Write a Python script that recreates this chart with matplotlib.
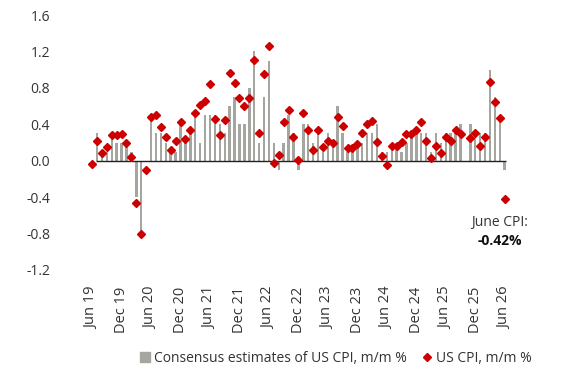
import matplotlib
matplotlib.use('Agg')
import matplotlib.pyplot as plt
import numpy as np

plt.rcParams['font.family'] = ['Open Sans', 'DejaVu Sans']

# monthly, Jun 2019 .. Jun 2026 (Oct 2025 has no release)
tick_labels = ['Jun 19', 'Dec 19', 'Jun 20', 'Dec 20', 'Jun 21', 'Dec 21', 'Jun 22', 'Dec 22',
               'Jun 23', 'Dec 23', 'Jun 24', 'Dec 24', 'Jun 25', 'Dec 25', 'Jun 26']

consensus = [0.0, 0.3, 0.1, 0.1, 0.3, 0.2, 0.2, 0.2, 0.1, -0.4, -0.8, 0.0,
             0.5, 0.3, 0.3, 0.2, 0.1, 0.1, 0.4, 0.2, 0.3, 0.5, 0.2, 0.5,
             0.5, 0.5, 0.4, 0.3, 0.6, 0.7, 0.4, 0.4, 0.8, 1.2, 0.2, 0.7,
             1.1, 0.2, -0.1, 0.2, 0.5, 0.3, -0.1, 0.4, 0.4, 0.2, 0.3, 0.1,
             0.3, 0.2, 0.6, 0.3, 0.1, 0.1, 0.2, 0.2, 0.3, 0.3, 0.4, 0.1,
             0.1, 0.2, 0.2, 0.1, 0.2, 0.3, 0.3, 0.3, 0.3, 0.1, 0.3, 0.2,
             0.3, 0.3, 0.3, 0.4, None, 0.4, 0.3, 0.3, 0.3, 1.0, 0.7, 0.5,
             -0.1]

cpi = [-0.04, 0.22, 0.08, 0.15, 0.28, 0.28, 0.29, 0.19, 0.04, -0.46, -0.80, -0.10,
       0.48, 0.50, 0.37, 0.26, 0.12, 0.22, 0.43, 0.24, 0.34, 0.52, 0.61, 0.66,
       0.84, 0.46, 0.28, 0.45, 0.96, 0.85, 0.69, 0.60, 0.69, 1.11, 0.30, 0.95,
       1.26, -0.03, 0.06, 0.42, 0.56, 0.26, 0.01, 0.52, 0.34, 0.12, 0.34, 0.15,
       0.22, 0.19, 0.48, 0.38, 0.14, 0.14, 0.18, 0.30, 0.40, 0.44, 0.21, 0.05,
       -0.05, 0.16, 0.16, 0.21, 0.29, 0.29, 0.34, 0.43, 0.22, 0.03, 0.16, 0.09,
       0.26, 0.22, 0.34, 0.29, None, 0.25, 0.30, 0.16, 0.26, 0.86, 0.64, 0.47,
       -0.42]

cons = np.array([np.nan if v is None else v for v in consensus])
act = np.array([np.nan if v is None else v for v in cpi])
x = np.arange(len(cons))

fig = plt.figure(figsize=(5.8, 3.79), dpi=100)
ax = fig.add_axes([0.108, 0.2876, 0.813, 0.6728])

bar_col = '#a6a6a0'
red = '#cc0000'
txt = '#333333'

ax.bar(x, np.nan_to_num(cons), width=0.5, color=bar_col, zorder=2)
ax.hlines(0, 0.7, 84.3, color='#222222', lw=1.0, zorder=3)
ax.plot(x, act, linestyle='none', marker='D', ms=4.3, color=red, zorder=4)

ax.set_xlim(-6, 90)
ax.set_ylim(-1.2, 1.6)
ax.set_yticks(np.arange(-1.2, 1.61, 0.4))
ax.set_yticklabels(['%.1f' % v for v in np.arange(-1.2, 1.61, 0.4)])
ax.set_xticks(x[::6])
ax.set_xticklabels(tick_labels, rotation=90)
ax.tick_params(axis='both', length=0, labelsize=10, colors=txt)
ax.tick_params(axis='x', pad=12, labelsize=10.5)
ax.tick_params(axis='y', pad=9)
for s in ax.spines.values():
    s.set_visible(False)

ax.text(83, -0.68, 'June CPI:', ha='center', va='center', fontsize=10, color=txt)
ax.text(83, -0.88, '-0.42%', ha='center', va='center', fontsize=10, color='#111111',
        fontweight='bold')

h1 = plt.Line2D([], [], linestyle='none', marker='s', ms=7, color=bar_col)
h2 = plt.Line2D([], [], linestyle='none', marker='D', ms=4, color=red)
fig.legend([h1, h2], ['Consensus estimates of US CPI, m/m %', 'US CPI, m/m %'],
           loc='center', bbox_to_anchor=(0.58, 0.055), ncol=2, frameon=False,
           fontsize=10, handlelength=0.6, handletextpad=0.3, columnspacing=1.2,
           labelcolor=txt)

fig.savefig('out.png', dpi=100)
